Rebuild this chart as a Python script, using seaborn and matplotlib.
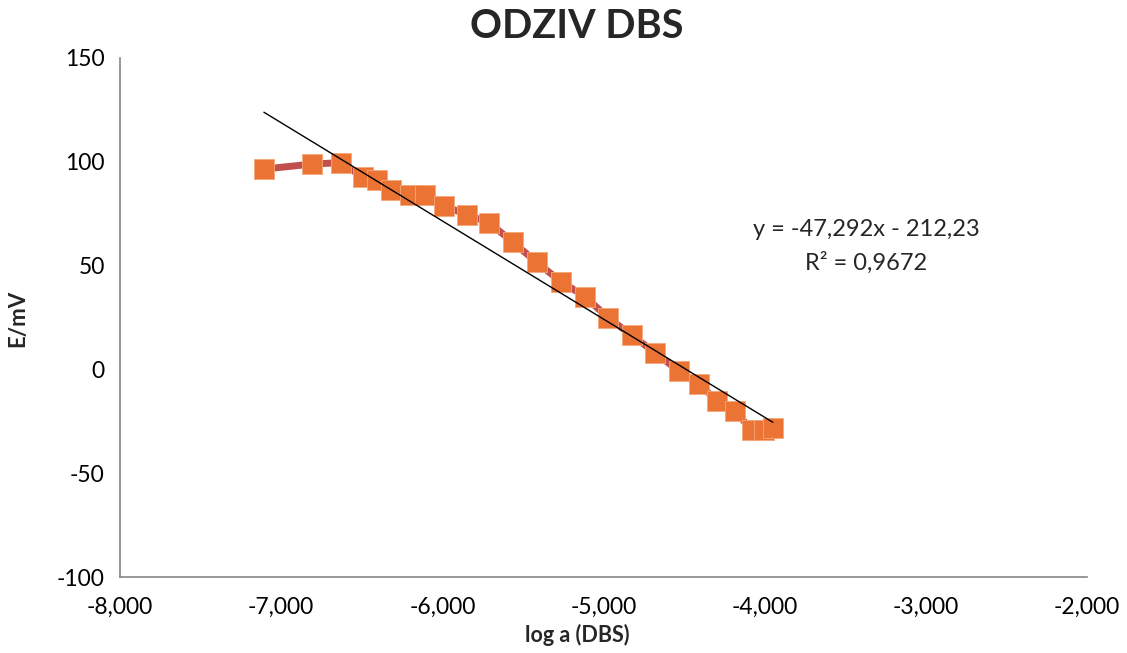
import numpy as np
import pandas as pd
import matplotlib
matplotlib.use("Agg")
import matplotlib.pyplot as plt
import seaborn as sns

# ---- data ----
log_a = [-7.107, -6.809, -6.629, -6.493, -6.406, -6.319, -6.201, -6.108,
         -5.990, -5.847, -5.711, -5.562, -5.413, -5.264, -5.115, -4.973,
         -4.824, -4.681, -4.532, -4.408, -4.296, -4.185, -4.079, -4.005, -3.949]
E_mV = [96.5, 98.9, 99.6, 92.6, 91.3, 86.6, 84.1, 84.1,
        78.8, 74.5, 70.7, 61.3, 51.5, 42.3, 35.1, 25.0,
        16.4, 8.1, -0.8, -6.9, -15.3, -20.2, -29.1, -29.1, -28.3]
slope = -47.292
intercept = -212.23
r2 = 0.9672
title = "ODZIV DBS"
xlabel = "log a (DBS)"
ylabel = "E/mV"
x_ticks = [-8, -7, -6, -5, -4, -3, -2]
y_ticks = [-100, -50, 0, 50, 100, 150]

df = pd.DataFrame({"x": log_a, "y": E_mV})

sns.set_theme(style="white")
plt.rcParams["font.family"] = ["Lato", "DejaVu Sans"]

fig = plt.figure(figsize=(11.27, 6.53), dpi=100)
ax = fig.add_axes([120/1127, 1-577/653, (1087-120)/1127, (577-58)/653])

sns.lineplot(data=df, x="x", y="y", ax=ax, color="#C0504D", lw=5,
             sort=False, zorder=2)
sns.scatterplot(data=df, x="x", y="y", ax=ax, marker="s", s=190,
                color="#EB7333", edgecolor="#F4A77A", linewidth=0.6, zorder=3)

# linear trendline over data range
xt = np.array([min(log_a), max(log_a)])
sns.lineplot(x=xt, y=slope*xt + intercept, ax=ax, color="black", lw=1.0, zorder=4)

ax.set_xlim(-8, -2)
ax.set_ylim(-100, 150)
ax.set_xticks(x_ticks)
ax.set_yticks(y_ticks)
ax.set_xticklabels([f"{v:.3f}".replace(".", ",") for v in x_ticks])
ax.set_yticklabels([str(v) for v in y_ticks])
ax.tick_params(axis="both", which="both", direction="out", length=6, width=1,
               color="#868686", labelsize=16.5, labelcolor="black", pad=5)
ax.tick_params(axis="x", pad=8)
for s in ["top", "right"]:
    ax.spines[s].set_visible(False)
for s in ["left", "bottom"]:
    ax.spines[s].set_color("#868686")
    ax.spines[s].set_linewidth(1.2)
ax.set_xlabel("")
ax.set_ylabel("")
ax.grid(False)

fig.text(577/1127, 1-27/653, title, ha="center", va="center",
         fontsize=28.5, fontweight="bold")
fig.text(577/1127, 1-635/653, xlabel, ha="center", va="center",
         fontsize=15.5, fontweight="bold")
fig.text(18/1127, 1-318/653, ylabel, ha="center", va="center",
         fontsize=16, fontweight="bold", rotation=90)

eq1 = "y = " + f"{slope:.3f}".replace(".", ",") + "x - " + f"{abs(intercept):.2f}".replace(".", ",")
eq2 = "R² = " + f"{r2:.4f}".replace(".", ",")
fig.text(866/1127, 1-229/653, eq1, ha="center", va="center", fontsize=17)
fig.text(866/1127, 1-263/653, eq2, ha="center", va="center", fontsize=17)

fig.savefig("out.png", dpi=100)
